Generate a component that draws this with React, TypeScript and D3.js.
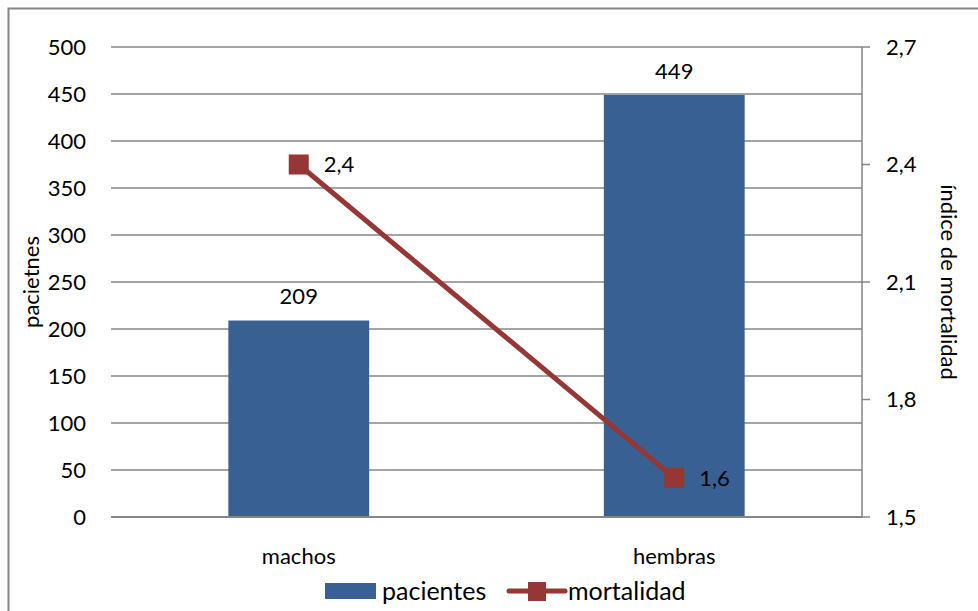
import React from "react";
import * as d3 from "d3";

const categories = ["machos", "hembras"];
const pacientes = [209, 449];
const mortalidad = [2.4, 1.6];
const leftTicks = [0, 50, 100, 150, 200, 250, 300, 350, 400, 450, 500];
const rightTicks = [1.5, 1.8, 2.1, 2.4, 2.7];

const W = 978, H = 611;
const M = { left: 111, right: 862, top: 47, bottom: 517 };
const FONT = "Lato, 'Open Sans', sans-serif";
const BAR = "#386093";
const LINE = "#953735";
const GRID = "#868686";
const FS = 22;

export default function App() {
  const x = d3.scaleBand<string>().domain(categories).range([M.left, M.right]).paddingInner(0.625).paddingOuter(0.3125);
  const yL = d3.scaleLinear().domain([0, 500]).range([M.bottom, M.top]);
  const yR = d3.scaleLinear().domain([1.5, 2.7]).range([M.bottom, M.top]);
  const fmt = (v: number) => v.toFixed(1).replace(".", ",");
  const cx = (c: string) => (x(c) as number) + x.bandwidth() / 2;
  const line = d3.line<number>().x((_, i) => cx(categories[i])).y((d) => yR(d));

  return (
    <svg width={W} height={H} style={{ position: "absolute", left: 0, top: 0, fontFamily: FONT }}>
      <rect x={8.5} y={8.5} width={980} height={620} fill="white" stroke={GRID} strokeWidth={2} />
      {leftTicks.map((t) => (
        <g key={t}>
          <line x1={M.left} x2={M.right} y1={yL(t)} y2={yL(t)} stroke={GRID} strokeWidth={1.5} />
          <text x={86} y={yL(t)} dy="0.35em" textAnchor="end" fontSize={FS} fill="#000">{t}</text>
        </g>
      ))}
      <line x1={M.right} x2={M.right} y1={M.top} y2={M.bottom} stroke={GRID} strokeWidth={1.5} />
      {rightTicks.map((t) => (
        <g key={t}>
          <line x1={M.right} x2={870} y1={yR(t)} y2={yR(t)} stroke={GRID} strokeWidth={1.5} />
          <text x={886} y={yR(t)} dy="0.35em" textAnchor="start" fontSize={FS} fill="#000">{fmt(t)}</text>
        </g>
      ))}
      {categories.map((c, i) => (
        <g key={c}>
          <rect x={x(c)} y={yL(pacientes[i])} width={x.bandwidth()} height={M.bottom - yL(pacientes[i])} fill={BAR} />
          <text x={cx(c)} y={yL(pacientes[i]) - 24} dy="0.35em" textAnchor="middle" fontSize={FS}>{pacientes[i]}</text>
          <text x={cx(c)} y={556} dy="0.35em" textAnchor="middle" fontSize={FS}>{c}</text>
        </g>
      ))}
      <line x1={M.left} x2={M.right} y1={M.bottom} y2={M.bottom} stroke={GRID} strokeWidth={2} />
      <path d={line(mortalidad) || ""} fill="none" stroke={LINE} strokeWidth={5} />
      {categories.map((c, i) => (
        <g key={c + "m"}>
          <rect x={cx(c) - 10} y={yR(mortalidad[i]) - 10} width={20} height={20} fill={LINE} />
          <text x={cx(c) + 25} y={yR(mortalidad[i])} dy="0.35em" textAnchor="start" fontSize={FS}>{fmt(mortalidad[i])}</text>
        </g>
      ))}
      <text transform={`translate(31,${(M.top + M.bottom) / 2}) rotate(-90)`} textAnchor="middle" dy="0.35em" fontSize={FS}>pacietnes</text>
      <text transform={`translate(949,${(M.top + M.bottom) / 2}) rotate(90)`} textAnchor="middle" dy="0.35em" fontSize={FS}>índice de mortalidad</text>
      <rect x={325} y={583} width={51} height={16} fill={BAR} />
      <text x={382} y={591} dy="0.35em" fontSize={25}>pacientes</text>
      <line x1={509} x2={565} y1={591} y2={591} stroke={LINE} strokeWidth={5} strokeLinecap="round" />
      <rect x={528} y={582} width={18} height={19} fill={LINE} />
      <text x={568} y={591} dy="0.35em" fontSize={25}>mortalidad</text>
    </svg>
  );
}
